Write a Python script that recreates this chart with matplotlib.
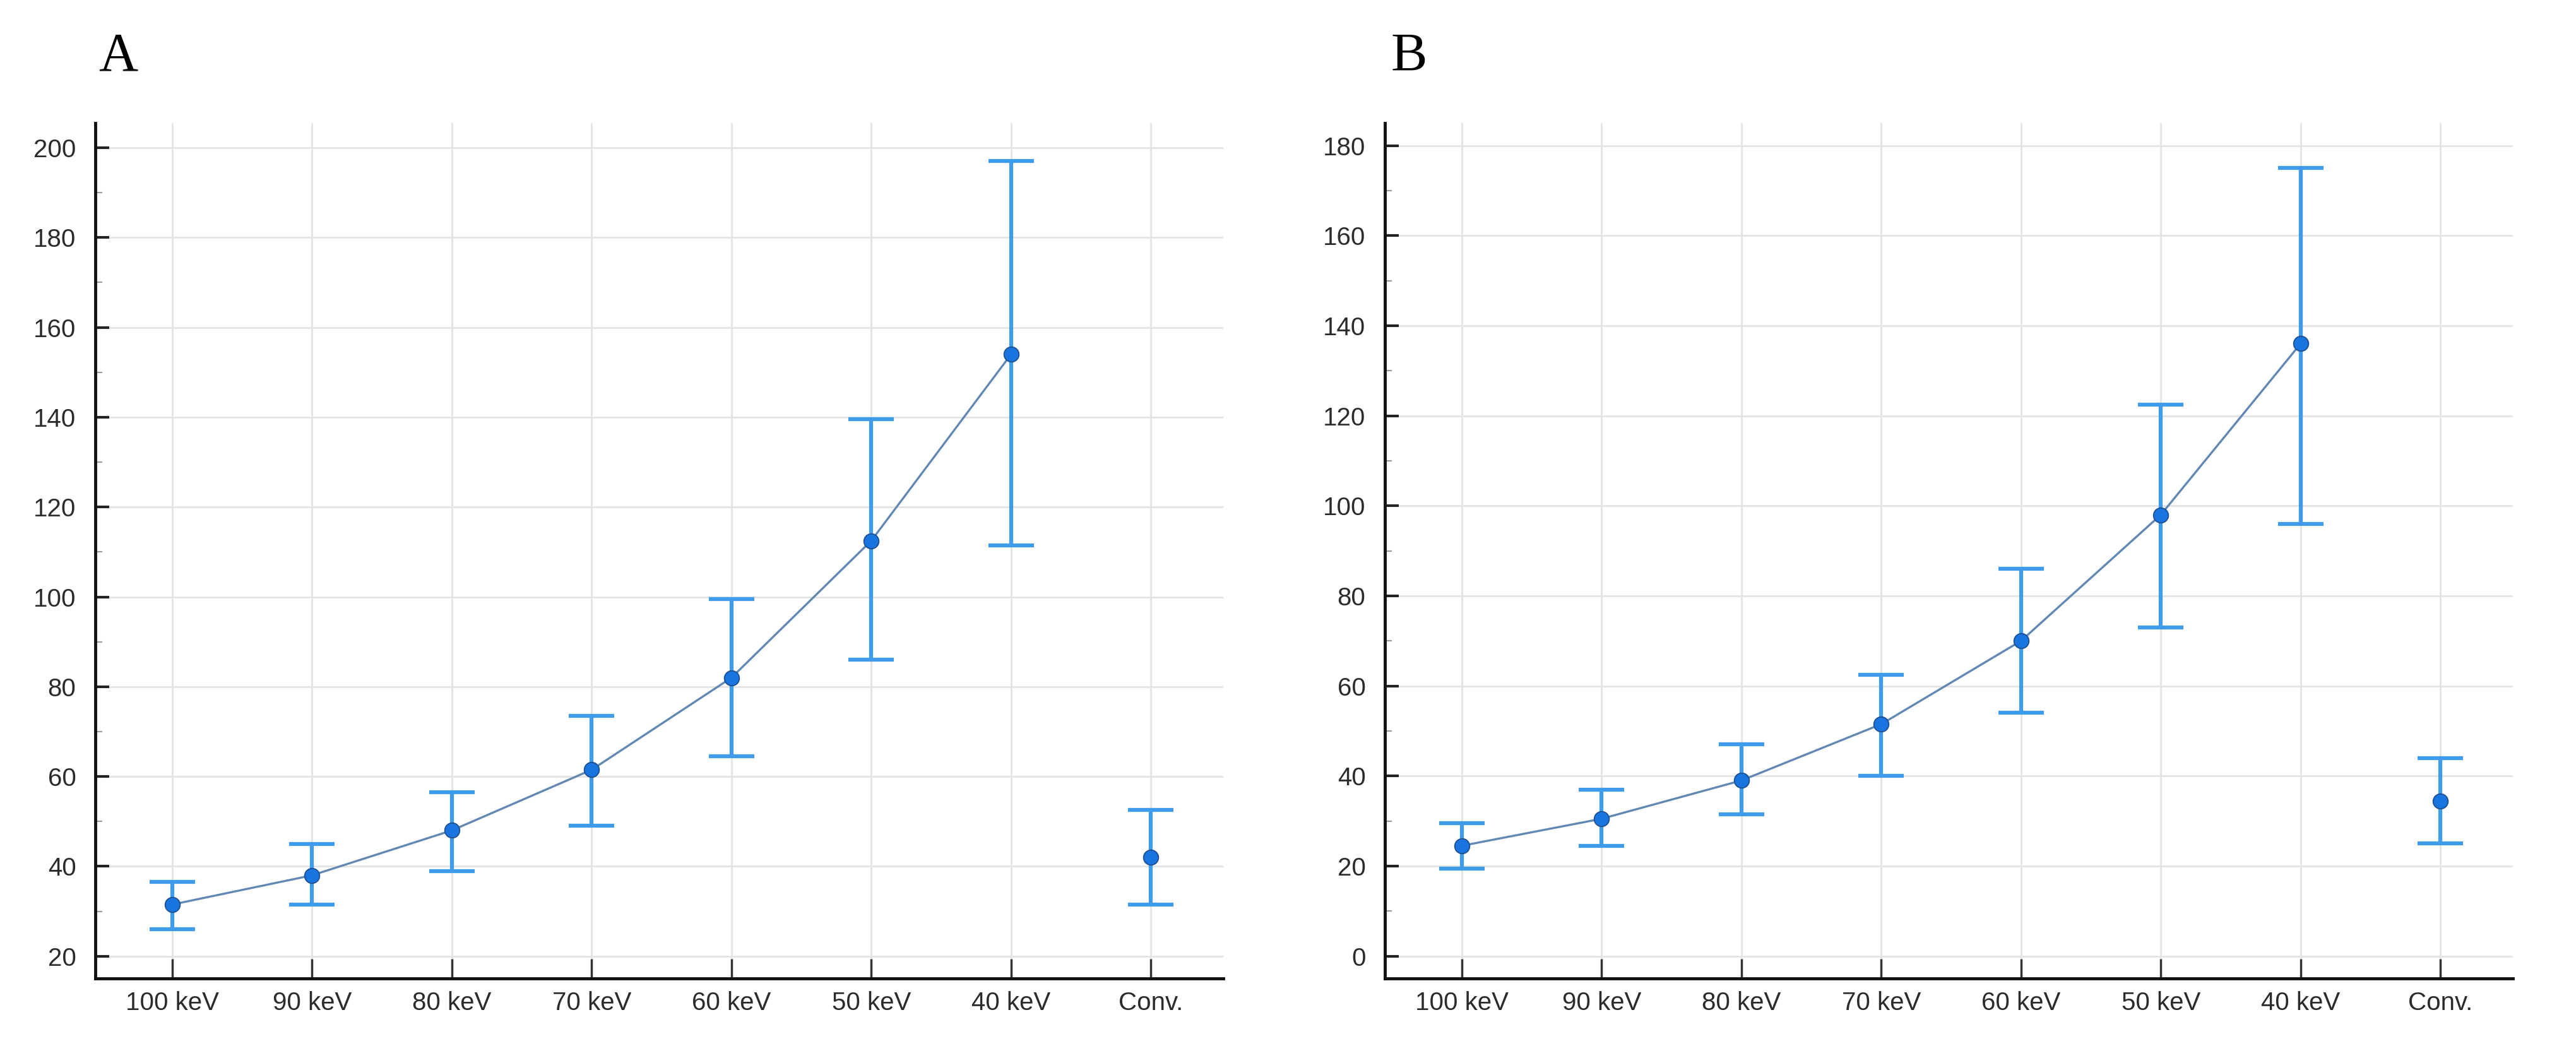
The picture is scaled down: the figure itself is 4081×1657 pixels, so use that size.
import numpy as np
import matplotlib
matplotlib.use("Agg")
import matplotlib.pyplot as plt
from matplotlib.ticker import MultipleLocator

plt.rcParams['font.family'] = ['Liberation Sans', 'DejaVu Sans']

categories = ["100 keV", "90 keV", "80 keV", "70 keV", "60 keV", "50 keV", "40 keV", "Conv."]

# panel A: mean, lower and upper bound
mean_a = [31.5, 38.0, 48.0, 61.5, 82.0, 112.5, 154.0, 42.0]
low_a = [26.0, 31.5, 39.0, 49.0, 64.5, 86.0, 111.5, 31.5]
high_a = [36.5, 45.0, 56.5, 73.5, 99.5, 139.5, 197.0, 52.5]

# panel B
mean_b = [24.5, 30.5, 39.0, 51.5, 70.0, 98.0, 136.0, 34.5]
low_b = [19.5, 24.5, 31.5, 40.0, 54.0, 73.0, 96.0, 25.0]
high_b = [29.5, 37.0, 47.0, 62.5, 86.0, 122.5, 175.0, 44.0]

ERR_COLOR = "#3f9ced"
DOT_COLOR = "#1a74e0"
LINE_COLOR = "#6088b3"
GRID_COLOR = "#e4e4e4"


def draw_panel(ax, mean, low, high, ylim, yticks):
    x = np.arange(len(categories))
    mean = np.array(mean)
    err = [mean - np.array(low), np.array(high) - mean]

    ax.set_axisbelow(True)
    ax.grid(True, color=GRID_COLOR, linewidth=2)

    # line only through the keV points, not Conv.
    ax.plot(x[:-1], mean[:-1], color=LINE_COLOR, linewidth=2.4, zorder=2)
    ax.errorbar(x, mean, yerr=err, fmt='none', ecolor=ERR_COLOR,
                elinewidth=4.5, capsize=26, capthick=4.5, zorder=3)
    ax.plot(x, mean, 'o', markersize=17, markerfacecolor=DOT_COLOR,
            markeredgecolor="#1c4f8f", markeredgewidth=1.3, zorder=4)

    ax.set_xlim(-0.55, len(categories) - 0.48)
    ax.set_ylim(*ylim)
    ax.set_xticks(x)
    ax.set_xticklabels(categories)
    ax.set_yticks(yticks)
    ax.yaxis.set_minor_locator(MultipleLocator(10))

    for s in ['top', 'right']:
        ax.spines[s].set_visible(False)
    for s in ['left', 'bottom']:
        ax.spines[s].set_linewidth(3.5)
        ax.spines[s].set_color("#111111")

    ax.tick_params(axis='y', which='major', direction='in', length=16,
                   width=3, color="#222222", pad=22, labelsize=29,
                   labelcolor="#2b2b2b")
    ax.tick_params(axis='y', which='minor', direction='in', length=8,
                   width=1.5, color="#999999")
    ax.tick_params(axis='x', which='major', direction='in', length=22,
                   width=2.5, color="#333333", pad=14, labelsize=29,
                   labelcolor="#2b2b2b")
    ax.grid(False, which='minor')


fig = plt.figure(figsize=(40.81, 16.57), dpi=100)
ax_a = fig.add_axes([0.037, 0.0644, 0.438, 0.818])
ax_b = fig.add_axes([0.5376, 0.0644, 0.438, 0.818])

draw_panel(ax_a, mean_a, low_a, high_a, (15, 205.5), np.arange(20, 201, 20))
draw_panel(ax_b, mean_b, low_b, high_b, (-5, 185), np.arange(0, 181, 20))

serif = ['Liberation Serif', 'DejaVu Serif']
fig.text(0.046, 0.945, "A", fontsize=62, family=serif, ha='center', va='center')
fig.text(0.547, 0.945, "B", fontsize=62, family=serif, ha='center', va='center')

fig.savefig("out.png", dpi=100, facecolor="white")
